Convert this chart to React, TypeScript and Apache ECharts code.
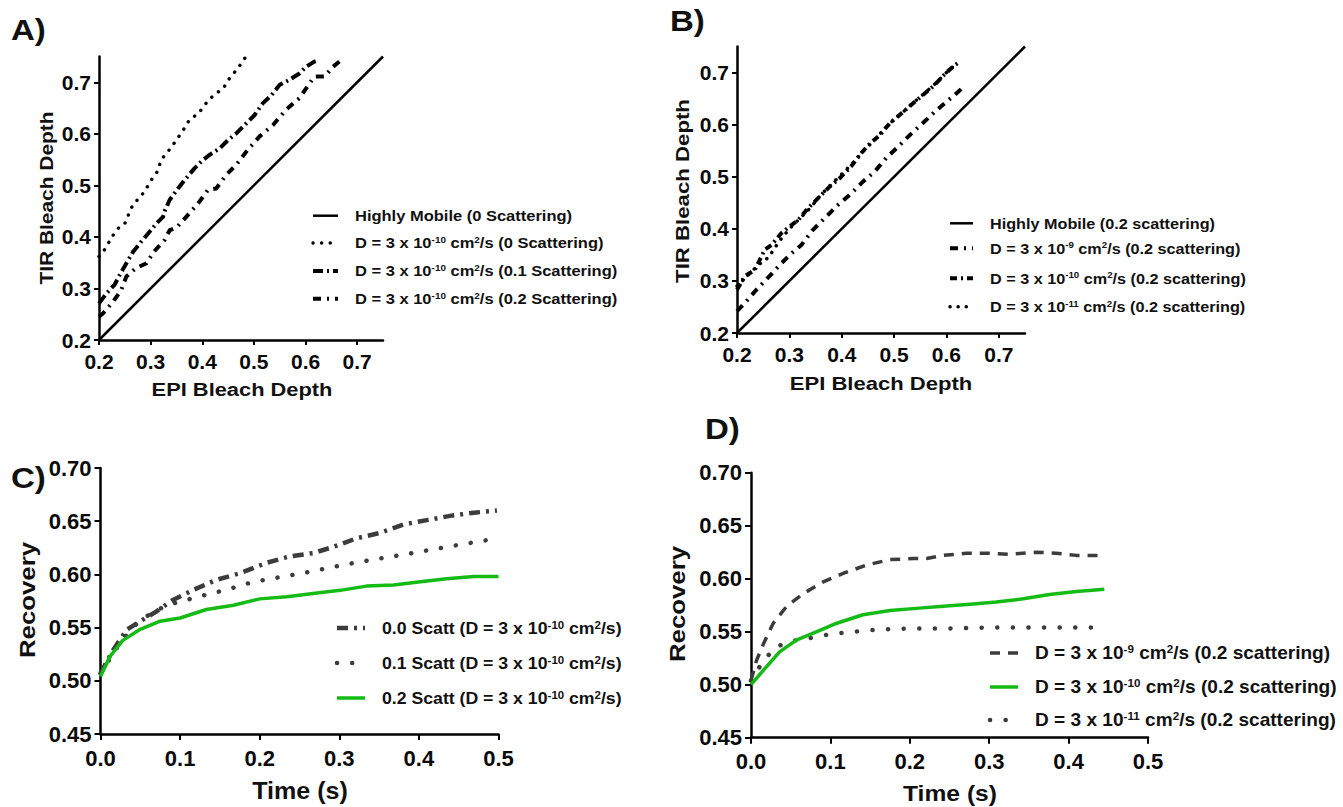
import React, { useEffect, useRef } from 'react';
import * as echarts from 'echarts';

type Pt = [number, number];

const FF = '"Liberation Sans", Arial, Helvetica, sans-serif';

// ---------- Panel A data (EPI vs TIR bleach depth) ----------
const aHighlyMobile: Pt[] = [[0.2, 0.2], [0.75, 0.75]];
const aScatt00: Pt[] = [
  [0.2, 0.362], [0.213, 0.378], [0.224, 0.399], [0.24, 0.42], [0.25, 0.426], [0.263, 0.457],
  [0.279, 0.478], [0.287, 0.486], [0.301, 0.51], [0.314, 0.528], [0.32, 0.549], [0.337, 0.57],
  [0.35, 0.588], [0.363, 0.607], [0.375, 0.627], [0.393, 0.64], [0.408, 0.66], [0.424, 0.677],
  [0.44, 0.687], [0.453, 0.708], [0.469, 0.727], [0.484, 0.749],
];
const aScatt01: Pt[] = [
  [0.2, 0.271], [0.214, 0.29], [0.23, 0.307], [0.24, 0.326], [0.253, 0.349], [0.266, 0.371],
  [0.282, 0.391], [0.298, 0.41], [0.311, 0.426], [0.324, 0.439], [0.328, 0.452], [0.337, 0.472],
  [0.353, 0.494], [0.369, 0.514], [0.385, 0.533], [0.401, 0.549], [0.414, 0.559], [0.434, 0.572],
  [0.45, 0.588], [0.466, 0.601], [0.485, 0.62], [0.501, 0.636], [0.517, 0.659], [0.534, 0.675],
  [0.55, 0.695], [0.569, 0.705], [0.588, 0.717], [0.601, 0.73], [0.617, 0.74], [0.627, 0.743],
];
const aScatt02: Pt[] = [
  [0.2, 0.245], [0.208, 0.252], [0.227, 0.274], [0.243, 0.297], [0.253, 0.323], [0.271, 0.339],
  [0.292, 0.349], [0.306, 0.371], [0.327, 0.394], [0.337, 0.413], [0.35, 0.418], [0.369, 0.439],
  [0.392, 0.465], [0.411, 0.491], [0.427, 0.494], [0.446, 0.52], [0.466, 0.54], [0.488, 0.569],
  [0.511, 0.595], [0.537, 0.617], [0.559, 0.643], [0.566, 0.65], [0.588, 0.669], [0.608, 0.698],
  [0.617, 0.711], [0.637, 0.711], [0.653, 0.73], [0.669, 0.743],
];

// ---------- Panel B data ----------
const bHighlyMobile: Pt[] = [[0.2, 0.2], [0.75, 0.75]];
const bD9: Pt[] = [
  [0.2, 0.242], [0.218, 0.261], [0.237, 0.283], [0.262, 0.309], [0.282, 0.331], [0.301, 0.35],
  [0.323, 0.369], [0.345, 0.398], [0.371, 0.424], [0.393, 0.446], [0.415, 0.465], [0.441, 0.491],
  [0.463, 0.51], [0.485, 0.536], [0.508, 0.558], [0.53, 0.58], [0.555, 0.603], [0.578, 0.625],
  [0.6, 0.644], [0.616, 0.657], [0.632, 0.672],
];
const bD10: Pt[] = [
  [0.2, 0.283], [0.215, 0.309], [0.234, 0.321], [0.253, 0.36], [0.266, 0.369], [0.285, 0.392],
  [0.301, 0.405], [0.317, 0.417], [0.336, 0.44], [0.358, 0.462], [0.377, 0.481], [0.396, 0.497],
  [0.418, 0.52], [0.437, 0.545], [0.454, 0.564], [0.473, 0.58], [0.492, 0.603], [0.511, 0.619],
  [0.533, 0.638], [0.555, 0.657], [0.574, 0.673], [0.596, 0.696], [0.613, 0.712], [0.626, 0.721],
];
const bD11: Pt[] = [
  [0.2, 0.29], [0.22, 0.31], [0.24, 0.33], [0.26, 0.345], [0.28, 0.375], [0.3, 0.4], [0.32, 0.42],
  [0.34, 0.44], [0.36, 0.465], [0.38, 0.485], [0.4, 0.505], [0.42, 0.525], [0.44, 0.548],
  [0.46, 0.568], [0.48, 0.59], [0.5, 0.61], [0.52, 0.627], [0.54, 0.645], [0.56, 0.662],
  [0.58, 0.68], [0.6, 0.7], [0.62, 0.718],
];

// ---------- Panel C data (Recovery vs time) ----------
const cScatt00: Pt[] = [
  [0, 0.507], [0.016, 0.529], [0.033, 0.548], [0.05, 0.556], [0.07, 0.565], [0.091, 0.576],
  [0.117, 0.5855], [0.146, 0.595], [0.175, 0.601], [0.209, 0.611], [0.238, 0.617], [0.267, 0.62],
  [0.293, 0.626], [0.322, 0.634], [0.351, 0.639], [0.381, 0.647], [0.41, 0.651], [0.439, 0.655],
  [0.469, 0.658], [0.498, 0.66],
];
const cScatt01: Pt[] = [
  [0, 0.507], [0.024, 0.535], [0.049, 0.557], [0.083, 0.571], [0.108, 0.576], [0.133, 0.581],
  [0.158, 0.5855], [0.192, 0.593], [0.23, 0.598], [0.267, 0.603], [0.305, 0.609], [0.343, 0.614],
  [0.376, 0.618], [0.414, 0.623], [0.452, 0.628], [0.492, 0.633],
];
const cScatt02: Pt[] = [
  [0, 0.504], [0.012, 0.523], [0.028, 0.538], [0.049, 0.548], [0.075, 0.556], [0.1, 0.559],
  [0.133, 0.567], [0.167, 0.571], [0.2, 0.577], [0.234, 0.579], [0.267, 0.582], [0.301, 0.585],
  [0.334, 0.589], [0.368, 0.59], [0.402, 0.593], [0.435, 0.596], [0.469, 0.598], [0.5, 0.598],
];

// ---------- Panel D data ----------
const dD9: Pt[] = [
  [0, 0.504], [0.007, 0.523], [0.016, 0.539], [0.028, 0.558], [0.045, 0.574], [0.066, 0.586],
  [0.091, 0.597], [0.116, 0.605], [0.146, 0.613], [0.175, 0.618], [0.204, 0.619], [0.221, 0.619],
  [0.242, 0.622], [0.271, 0.624], [0.3, 0.624], [0.325, 0.623], [0.359, 0.625], [0.384, 0.624],
  [0.41, 0.622], [0.439, 0.622],
];
const dD10: Pt[] = [
  [0, 0.5], [0.016, 0.514], [0.036, 0.531], [0.057, 0.542], [0.083, 0.55], [0.108, 0.558],
  [0.141, 0.566], [0.175, 0.57], [0.208, 0.572], [0.242, 0.574], [0.276, 0.576], [0.309, 0.578],
  [0.343, 0.581], [0.376, 0.585], [0.41, 0.588], [0.445, 0.59],
];
const dD11: Pt[] = [
  [0, 0.504], [0.016, 0.523], [0.032, 0.536], [0.057, 0.542], [0.083, 0.545], [0.101, 0.548],
  [0.12, 0.549], [0.141, 0.551], [0.162, 0.552], [0.2, 0.553], [0.25, 0.553], [0.3, 0.554],
  [0.35, 0.554], [0.4, 0.554], [0.445, 0.554],
];

// ---------- Ticks ----------
const abTicks = [0.2, 0.3, 0.4, 0.5, 0.6, 0.7];
const cdXTicks = [0, 0.1, 0.2, 0.3, 0.4, 0.5];
const cdYTicks = [0.45, 0.5, 0.55, 0.6, 0.65, 0.7];

// ---------- Labels ----------
const aLegend = [
  'Highly Mobile (0 Scattering)',
  'D = 3 x 10{sup|-10} cm{sup|2}/s (0 Scattering)',
  'D = 3 x 10{sup|-10} cm{sup|2}/s (0.1 Scattering)',
  'D = 3 x 10{sup|-10} cm{sup|2}/s (0.2 Scattering)',
];
const bLegend = [
  'Highly Mobile (0.2 scattering)',
  'D = 3 x 10{sup|-9} cm{sup|2}/s (0.2 scattering)',
  'D = 3 x 10{sup|-10} cm{sup|2}/s (0.2 scattering)',
  'D = 3 x 10{sup|-11} cm{sup|2}/s (0.2 scattering)',
];
const cLegend = [
  '0.0 Scatt (D = 3 x 10{sup|-10} cm{sup|2}/s)',
  '0.1 Scatt (D = 3 x 10{sup|-10} cm{sup|2}/s)',
  '0.2 Scatt (D = 3 x 10{sup|-10} cm{sup|2}/s)',
];
const dLegend = [
  'D = 3 x 10{sup|-9} cm{sup|2}/s (0.2 scattering)',
  'D = 3 x 10{sup|-10} cm{sup|2}/s (0.2 scattering)',
  'D = 3 x 10{sup|-11} cm{sup|2}/s (0.2 scattering)',
];
const panelLabels = ['A)', 'B)', 'C)', 'D)'];

type LS = { color: string; width: number; dash: number[] | null; cap: 'round' | 'butt' };
const BLACK = '#000000';
const GREY = '#3c3c3c';
const GREEN = '#14bb14';

const stSolid: LS = { color: BLACK, width: 2.5, dash: null, cap: 'butt' };
const stDotA: LS = { color: BLACK, width: 3.4, dash: [0.1, 8.5], cap: 'round' };
const stDashDotA1: LS = { color: BLACK, width: 4, dash: [10, 4, 2, 4], cap: 'butt' };
const stDashDotA2: LS = { color: BLACK, width: 4, dash: [8, 6, 2, 6], cap: 'butt' };
const stB9: LS = { color: BLACK, width: 4, dash: [8, 6, 2, 6], cap: 'butt' };
const stB10: LS = { color: BLACK, width: 4, dash: [7, 4, 2, 4], cap: 'butt' };
const stB11: LS = { color: BLACK, width: 3.5, dash: [0.1, 8], cap: 'round' };
const stCDash: LS = { color: GREY, width: 4.5, dash: [11, 6, 3, 6], cap: 'butt' };
const stCDot: LS = { color: GREY, width: 4.5, dash: [0.1, 15], cap: 'round' };
const stGreen: LS = { color: GREEN, width: 3.5, dash: null, cap: 'butt' };
const stDDash: LS = { color: GREY, width: 3.5, dash: [10, 8], cap: 'butt' };
const stDDot: LS = { color: GREY, width: 4.5, dash: [0.1, 15.5], cap: 'round' };

function lineSeries(name: string, data: Pt[], idx: number, st: LS) {
  return {
    type: 'line',
    name,
    data,
    xAxisIndex: idx,
    yAxisIndex: idx,
    showSymbol: false,
    symbol: 'none',
    silent: true,
    lineStyle: {
      color: st.color,
      width: st.width,
      type: st.dash ? st.dash : 'solid',
      cap: st.cap,
      join: 'round',
    },
  };
}

function axis(idx: number, min: number, max: number, ticks: number[], digits: number, margin: number, tickLen: number, fontSize: number) {
  return {
    type: 'value',
    gridIndex: idx,
    min,
    max,
    axisLine: { show: true, onZero: false, lineStyle: { color: '#000', width: 2.5 } },
    axisTick: { show: true, inside: false, length: tickLen, customValues: ticks, lineStyle: { color: '#000', width: 2 } },
    axisLabel: {
      customValues: ticks,
      formatter: (v: number) => v.toFixed(digits),
      fontFamily: FF,
      fontWeight: 'bold',
      fontSize,
      color: '#0a0a0a',
      margin,
    },
    splitLine: { show: false },
  };
}

function richText(text: string, size: number, x: number, y: number, scaleX: number) {
  const sup = Math.round(size * 0.62);
  return {
    type: 'text',
    x,
    y,
    scaleX,
    silent: true,
    style: {
      text,
      fontFamily: FF,
      fontWeight: 'bold',
      fontSize: size,
      fill: '#111',
      align: 'left',
      verticalAlign: 'middle',
      rich: {
        sup: { fontFamily: FF, fontWeight: 'bold', fontSize: sup, fill: '#111', verticalAlign: 'top', lineHeight: sup },
      },
    },
  };
}

function legendGraphics(labels: string[], styles: LS[], x1: number, x2: number, tx: number, ys: number[], size: number, scaleX: number) {
  const out: any[] = [];
  labels.forEach((lab, i) => {
    const st = styles[i];
    out.push({
      type: 'line',
      silent: true,
      shape: { x1, y1: ys[i], x2, y2: ys[i] },
      style: {
        stroke: st.color,
        lineWidth: st.width,
        lineDash: st.dash || undefined,
        lineCap: st.cap,
      },
    });
    out.push(richText(lab, size, tx, ys[i], scaleX));
  });
  return out;
}

function plainText(text: string, size: number, x: number, y: number, scaleX: number, rotate: number, align: string) {
  return {
    type: 'text',
    x,
    y,
    rotation: rotate,
    scaleX,
    silent: true,
    style: {
      text,
      fontFamily: FF,
      fontWeight: 'bold',
      fontSize: size,
      fill: '#111',
      align,
      verticalAlign: 'middle',
    },
  };
}

export default function App() {
  const ref = useRef<HTMLDivElement>(null);
  useEffect(() => {
    document.body.style.margin = '0';
    if (!ref.current) return;
    const chart = echarts.init(ref.current, undefined, { renderer: 'svg' });
    const R = Math.PI / 2;
    const option: any = {
      animation: false,
      backgroundColor: '#ffffff',
      grid: [
        { left: 99, top: 56.5, width: 284, height: 283.5 },
        { left: 737, top: 46.5, width: 288, height: 286.5 },
        { left: 100.5, top: 468, width: 398, height: 266 },
        { left: 751, top: 472.7, width: 397, height: 265 },
      ],
      xAxis: [
        axis(0, 0.2, 0.75, abTicks, 1, 11, 5, 21),
        axis(1, 0.2, 0.75, abTicks, 1, 11, 5, 21),
        axis(2, 0, 0.5, cdXTicks, 1, 13, 6, 22),
        axis(3, 0, 0.5, cdXTicks, 1, 13, 6, 22),
      ],
      yAxis: [
        axis(0, 0.2, 0.75, abTicks, 1, 8, 5, 21),
        axis(1, 0.2, 0.75, abTicks, 1, 8, 5, 21),
        axis(2, 0.45, 0.7, cdYTicks, 2, 9, 6, 22),
        axis(3, 0.45, 0.7, cdYTicks, 2, 9, 6, 22),
      ],
      series: [
        lineSeries('Highly Mobile (0 Scattering)', aHighlyMobile, 0, stSolid),
        lineSeries('D = 3e-10 (0 Scattering)', aScatt00, 0, stDotA),
        lineSeries('D = 3e-10 (0.1 Scattering)', aScatt01, 0, stDashDotA1),
        lineSeries('D = 3e-10 (0.2 Scattering)', aScatt02, 0, stDashDotA2),
        lineSeries('Highly Mobile (0.2 scattering)', bHighlyMobile, 1, stSolid),
        lineSeries('D = 3e-9 (0.2 scattering)', bD9, 1, stB9),
        lineSeries('D = 3e-11 (0.2 scattering)', bD11, 1, stB11),
        lineSeries('D = 3e-10 (0.2 scattering)', bD10, 1, stB10),
        lineSeries('0.0 Scatt', cScatt00, 2, stCDash),
        lineSeries('0.1 Scatt', cScatt01, 2, stCDot),
        lineSeries('0.2 Scatt', cScatt02, 2, stGreen),
        lineSeries('D = 3e-9', dD9, 3, stDDash),
        lineSeries('D = 3e-11', dD11, 3, stDDot),
        lineSeries('D = 3e-10', dD10, 3, stGreen),
      ],
      graphic: [
        plainText(panelLabels[0], 30, 11, 30, 1.1, 0, 'left'),
        plainText(panelLabels[1], 30, 670, 21, 1.1, 0, 'left'),
        plainText(panelLabels[2], 30, 11, 478, 1.1, 0, 'left'),
        plainText(panelLabels[3], 30, 705, 429, 1.1, 0, 'left'),
        plainText('TIR Bleach Depth', 19, 46, 198, 1.1, R, 'center'),
        plainText('EPI Bleach Depth', 19, 242, 389, 1.15, 0, 'center'),
        plainText('TIR Bleach Depth', 19, 682, 191, 1.17, R, 'center'),
        plainText('EPI Bleach Depth', 19, 881, 383, 1.16, 0, 'center'),
        plainText('Recovery', 23, 27, 600, 1.12, R, 'center'),
        plainText('Time (s)', 23, 300, 791, 1.09, 0, 'center'),
        plainText('Recovery', 23, 677, 604, 1.12, R, 'center'),
        plainText('Time (s)', 22, 950, 793, 1.12, 0, 'center'),
        ...legendGraphics(aLegend, [stSolid, stDotA, stDashDotA1, stDashDotA2], 313, 338, 355, [215.7, 243, 271, 298.7], 15, 1.1),
        ...legendGraphics(bLegend, [stSolid, stB9, stB10, stB11], 950, 973, 990, [223.3, 248.3, 278.3, 306.7], 15, 1.08),
        ...legendGraphics(cLegend, [stCDash, stCDot, stGreen], 337, 365, 382, [628, 663, 698], 17, 1.04),
        ...legendGraphics(dLegend, [stDDash, stGreen, stDDot], 990, 1018, 1035, [653, 687, 720], 18, 1.06),
      ],
    };
    chart.setOption(option);
    return () => chart.dispose();
  }, []);
  return <div ref={ref} style={{ width: 1343, height: 807, position: 'absolute', left: 0, top: 0 }} />;
}
